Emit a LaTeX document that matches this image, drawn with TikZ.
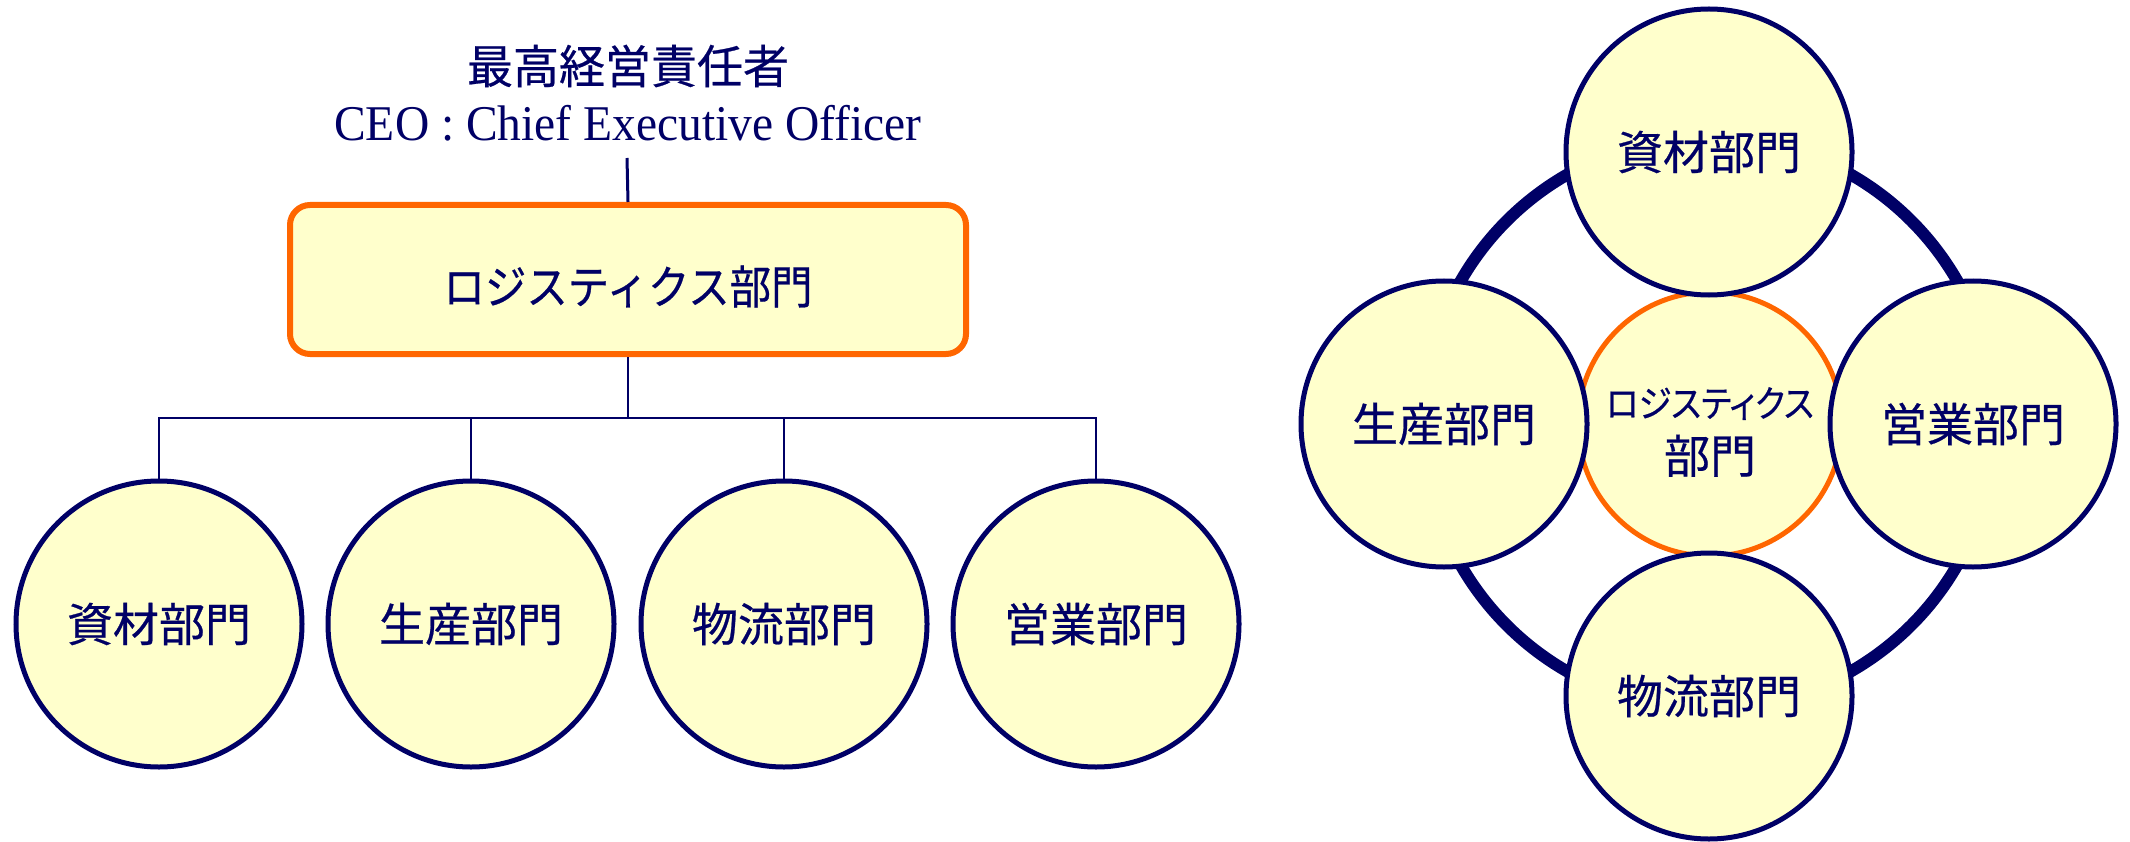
\documentclass[tikz,border=0pt]{standalone}
\usepackage{fontspec}
\newfontfamily\jp[FakeBold=0.5]{Noto Sans CJK JP}
\newfontfamily\jpn[FakeStretch=0.9,FakeBold=0.5]{Noto Sans CJK JP}
\newfontfamily\jpp[RawFeature=+palt,FakeStretch=0.9,FakeBold=0.5]{Noto Sans CJK JP}
\newfontfamily\ceofont[FakeStretch=0.95]{Liberation Serif}
\definecolor{deptnavy}{HTML}{000066}
\definecolor{deptpale}{HTML}{FFFFCC}
\definecolor{deptorange}{HTML}{FF6600}
\begin{document}
\begin{tikzpicture}[x=1pt,y=-1pt,
  dept/.style={circle, draw=deptnavy, line width=5pt, fill=deptpale, minimum size=286pt, inner sep=0pt, text=deptnavy, font=\jp\fontsize{46pt}{52pt}\selectfont},
  wire/.style={draw=deptnavy, line width=2.5pt},
  hub/.style={rectangle, rounded corners=20pt, draw=deptorange, line width=6pt, fill=deptpale, minimum width=676pt, minimum height=149pt, inner sep=0pt},
  hublabel/.style={text=deptnavy, inner sep=0pt, yshift=-7pt, font=\jpn\fontsize{46pt}{52pt}\selectfont},
  core/.style={circle, draw=deptorange, line width=5pt, fill=deptpale, minimum size=264pt, inner sep=0pt},
  corelabel/.style={text=deptnavy, inner sep=0pt, align=center, yshift=-8pt, font=\jp\fontsize{46pt}{56pt}\selectfont},
  ringstyle/.style={circle, draw=deptnavy, line width=12pt, minimum size=572pt, inner sep=0pt}]
\useasboundingbox (0,0) rectangle (2130,842);
% ---------- left: hierarchy ----------
\node[text=deptnavy, font=\jp\fontsize{46pt}{52pt}\selectfont] (title) at (628,66) {最高経営責任者};
\node[anchor=base, text=deptnavy, font=\ceofont\fontsize{50pt}{56pt}\selectfont] (ceo) at (628,141) {CEO : Chief Executive Officer};
\node[hub, label={[hublabel]center:ロジスティクス部門}] (logbox) at (628,279.5) {};
\coordinate (ceoline) at (627,158);
\draw[wire, line width=3pt] (ceoline) -- (logbox.north);
\node[dept] (d1) at (159,624) {資材部門};
\node[dept] (d2) at (471,624) {生産部門};
\node[dept] (d3) at (784,624) {物流部門};
\node[dept] (d4) at (1096,624) {営業部門};
\coordinate (bus) at (628,418);
\draw[wire] (logbox.south) -- (bus);
\draw[wire] (d1.north) -- (d1.north |- bus) -- (d4.north |- bus) -- (d4.north);
\draw[wire] (d2.north) -- (d2.north |- bus);
\draw[wire] (d3.north) -- (d3.north |- bus);
% ---------- right: ring ----------
\node[ringstyle] (ring) at (1709,423) {};
\node[core, label={[corelabel]center:{\jpp\fontsize{37pt}{56pt}\selectfont ロジスティクス}\\部門}] (center) at (1710,424) {};
\node[dept] (rtop) at (1709,152) {資材部門};
\node[dept] (rleft) at (1444,424) {生産部門};
\node[dept] (rright) at (1973,424) {営業部門};
\node[dept] (rbottom) at (1709,696) {物流部門};
\end{tikzpicture}
\end{document}
